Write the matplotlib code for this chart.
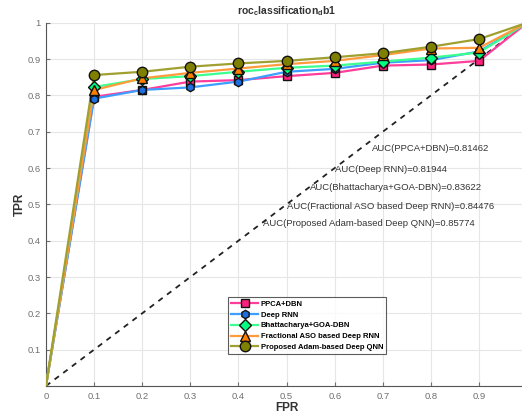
import matplotlib.pyplot as plt
import numpy as np

plt.rcParams['font.family'] = ['Liberation Sans', 'DejaVu Sans']
plt.rcParams['mathtext.fontset'] = 'custom'
plt.rcParams['mathtext.bf'] = 'Liberation Sans:bold'
plt.rcParams['mathtext.rm'] = 'Liberation Sans:bold'

fpr = [0, 0.1, 0.2, 0.3, 0.4, 0.5, 0.6, 0.7, 0.8, 0.9, 1.0]

ppca_dbn = [0, 0.796, 0.815, 0.838, 0.842, 0.853, 0.862, 0.882, 0.885, 0.895, 1.0]
deep_rnn = [0, 0.791, 0.815, 0.822, 0.838, 0.865, 0.873, 0.890, 0.897, 0.921, 1.0]
bhatt_goa = [0, 0.823, 0.845, 0.853, 0.865, 0.876, 0.882, 0.893, 0.904, 0.918, 1.0]
frac_aso = [0, 0.815, 0.847, 0.862, 0.874, 0.886, 0.895, 0.911, 0.929, 0.931, 1.0]
adam_qnn = [0, 0.856, 0.865, 0.879, 0.888, 0.895, 0.905, 0.916, 0.934, 0.955, 1.0]

labels = ['PPCA+DBN', 'Deep RNN', 'Bhattacharya+GOA-DBN',
          'Fractional ASO based Deep RNN', 'Proposed Adam-based Deep QNN']
auc = ['0.81462', '0.81944', '0.83622', '0.84476', '0.85774']
auc_pos = [(0.677, 0.654), (0.601, 0.597), (0.549, 0.547), (0.500, 0.495), (0.450, 0.446)]

series = [ppca_dbn, deep_rnn, bhatt_goa, frac_aso, adam_qnn]
line_colors = ['#ff3d9a', '#3d9eff', '#3dff8f', '#ff9a3d', '#a0a030']
face_colors = ['#ff1f7f', '#1f6fe0', '#00ff80', '#ff7f00', '#808000']
markers = ['s', 'h', 'D', '^', 'o']
msizes = [6, 6, 6, 7, 7.5]

fig = plt.figure(figsize=(5.22, 4.18), dpi=100)
ax = fig.add_axes([0.088, 0.0766, 0.922, 0.869])

ax.plot([0, 1], [0, 1], linestyle=(0, (3, 3)), color='#222222', linewidth=1.3, zorder=2)

for s, lab, lc, fc, m, ms in zip(series, labels, line_colors, face_colors, markers, msizes):
    xs = np.array(fpr)
    ys = np.array(s)
    ax.plot(xs, ys, color=lc, linewidth=1.6, zorder=3)
    ax.plot(xs[1:-1], ys[1:-1], linestyle='none', marker=m, markersize=ms,
            markerfacecolor=fc, markeredgecolor='#111111', markeredgewidth=1.0, zorder=4)
    ax.plot([], [], color=lc, linewidth=1.6, marker=m, markersize=ms,
            markerfacecolor=fc, markeredgecolor='#111111', markeredgewidth=1.0, label=lab)

for name, a, (tx, ty) in zip(labels, auc, auc_pos):
    ax.text(tx, ty, 'AUC(%s)=%s' % (name, a), fontsize=6.8, color='#333333',
            ha='left', va='center', zorder=5)

ax.set_xlim(0, 1)
ax.set_ylim(0, 1)
ax.set_xticks(np.arange(0, 1.0, 0.1))
ax.set_xticklabels(['0', '0.1', '0.2', '0.3', '0.4', '0.5', '0.6', '0.7', '0.8', '0.9'])
ax.set_yticks(np.arange(0, 1.01, 0.1))
ax.set_yticklabels(['', '0.1', '0.2', '0.3', '0.4', '0.5', '0.6', '0.7', '0.8', '0.9', '1'])
ax.tick_params(axis='both', labelsize=6.8, colors='#707070', length=3, direction='in', pad=4)
ax.grid(True, color='#e6e6e6', linewidth=0.8)
ax.set_axisbelow(True)
for sp in ['top', 'right']:
    ax.spines[sp].set_visible(False)
for sp in ['left', 'bottom']:
    ax.spines[sp].set_color('#555555')

ax.set_xlabel('FPR', fontsize=8.5, fontweight='bold', color='#333333', labelpad=1)
ax.set_ylabel('TPR', fontsize=8.5, fontweight='bold', color='#333333', labelpad=1)
ax.set_title(r'roc$_\mathbf{c}$lassification$_\mathbf{d}$b1', fontsize=7.5,
             fontweight='bold', color='#333333', pad=6)

leg = ax.legend(loc='lower left', bbox_to_anchor=(0.378, 0.088),
                prop={'weight': 'bold', 'size': 5.5}, frameon=True, fancybox=False,
                edgecolor='#333333', borderpad=0.4, labelspacing=0.45,
                handlelength=3.6, handletextpad=0.3, borderaxespad=0)
leg.get_frame().set_linewidth(0.8)

plt.savefig('out.png', dpi=100)
